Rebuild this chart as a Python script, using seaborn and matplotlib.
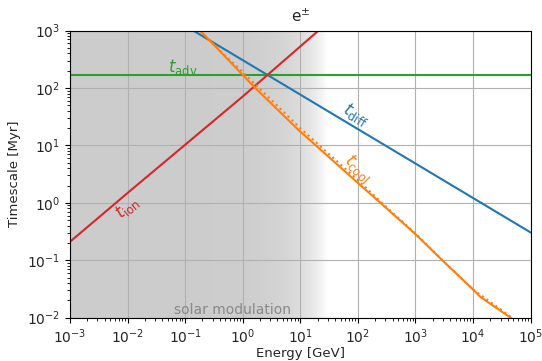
import numpy as np
import pandas as pd
import matplotlib
matplotlib.use("Agg")
import matplotlib.pyplot as plt
import seaborn as sns

# Energy-loss / transport timescales for electrons and positrons
# (energy in GeV, timescale in Myr)
diff_energy = [10**-1.5, 1e5]
diff_time = [10**(-0.516 + 0.6 * 6.5), 10**-0.516]

adv_energy = [1e-3, 1e5]
adv_time = [168.0, 168.0]

ion_energy = [1e-3, 1e-2, 1e0, 10**1.318, 1e2]
ion_time = [10**-0.68, 10**0.17, 10**1.85, 1e3, 10**3.6]

cool_energy = [1e-1, 10**-0.739, 10**0.217, 10**0.97, 10**2.043, 10**2.391,
               1e3, 10**3.464, 1e4, 10**4.13, 10**4.652, 1e5]
cool_time = [10**3.26, 1e3, 1e2, 10**1.267, 10**0.308, 1e0,
             10**-0.545, 10**-0.998, 10**-1.509, 10**-1.64, 1e-2, 10**-2.25]

# Thomson-limit cooling time (dotted)
cool_th_energy = [1e-1, 10**-0.4, 1e0, 1e1, 1e2, 10**2.5, 1e3, 10**3.5,
                  1e4, 10**4.3, 10**4.6, 1e5]
cool_th_time = [10**3.26, 10**2.655, 10**2.277, 10**1.30, 10**0.396, 10**-0.078,
                10**-0.535, 10**-1.032, 10**-1.509, 10**-1.727, 10**-1.944, 10**-2.25]

sns.set_style("ticks")
fig = plt.figure(figsize=(5.42, 3.61), dpi=100)
ax = fig.add_axes([0.129, 0.12, 0.850, 0.7955])
ax.set_xscale("log")
ax.set_yscale("log")
ax.set_xlim(1e-3, 1e5)
ax.set_ylim(1e-2, 1e3)

# solar modulation band: solid grey fading out towards ~30 GeV
edges = np.logspace(-3, np.log10(30), 300)
for lo, hi in zip(edges[:-1], edges[1:]):
    mid = np.sqrt(lo * hi)
    alpha = np.clip(1 - mid / 30.0, 0, 1)
    g = 1 - 0.2 * alpha
    ax.axvspan(lo, hi, color=(g, g, g), lw=0, antialiased=False, zorder=0)

ax.grid(True, which="major", color="#b0b0b0", lw=0.8, zorder=0.5)
ax.set_axisbelow(False)

blue, orange, green, red = "#1f77b4", "#ff7f0e", "#2ca02c", "#d62728"

sns.lineplot(data=pd.DataFrame({"E": diff_energy, "t": diff_time}), x="E", y="t",
             color=blue, lw=1.5, ax=ax, zorder=3)
sns.lineplot(data=pd.DataFrame({"E": adv_energy, "t": adv_time}), x="E", y="t",
             color=green, lw=1.5, ax=ax, zorder=3)
sns.lineplot(data=pd.DataFrame({"E": ion_energy, "t": ion_time}), x="E", y="t",
             color=red, lw=1.5, ax=ax, zorder=3)
sns.lineplot(data=pd.DataFrame({"E": cool_energy, "t": cool_time}), x="E", y="t",
             color=orange, lw=1.5, ax=ax, zorder=3)
sns.lineplot(data=pd.DataFrame({"E": cool_th_energy, "t": cool_th_time}), x="E", y="t",
             color=orange, lw=1.5, ls=":", ax=ax, zorder=3)

ax.set_xlim(1e-3, 1e5)
ax.set_ylim(1e-2, 1e3)

ax.text(0.09, 232, r"$t_{\rm adv}$", color=green, fontsize=12, ha="center", va="center")
ax.text(93, 34, r"$t_{\rm diff}$", color=blue, fontsize=12, ha="center", va="center",
        rotation=-31)
ax.text(100, 4.0, r"$t_{\rm cool}$", color=orange, fontsize=12, ha="center", va="center",
        rotation=-45)
ax.text(0.0097, 0.85, r"$t_{\rm ion}$", color=red, fontsize=12, ha="center", va="center",
        rotation=40)
ax.text(0.66, 10**-1.87, "solar modulation", color="#888888", fontsize=10,
        ha="center", va="center")

ax.set_title(r"e$^{\pm}$", fontsize=11)
ax.set_xlabel("Energy [GeV]", fontsize=9.5, labelpad=1)
ax.set_ylabel("Timescale [Myr]", fontsize=9.5, labelpad=4)
for s in ax.spines.values():
    s.set_color("black")
    s.set_zorder(5)
ax.tick_params(which="both", direction="out", color="black")
ax.xaxis.set_major_locator(matplotlib.ticker.LogLocator(base=10, numticks=20))
ax.xaxis.set_minor_locator(matplotlib.ticker.LogLocator(base=10, subs=np.arange(2, 10), numticks=20))
ax.yaxis.set_minor_locator(matplotlib.ticker.LogLocator(base=10, subs=np.arange(2, 10), numticks=20))
ax.xaxis.set_minor_formatter(matplotlib.ticker.NullFormatter())
ax.yaxis.set_minor_formatter(matplotlib.ticker.NullFormatter())

fig.savefig("out.png", dpi=100)
